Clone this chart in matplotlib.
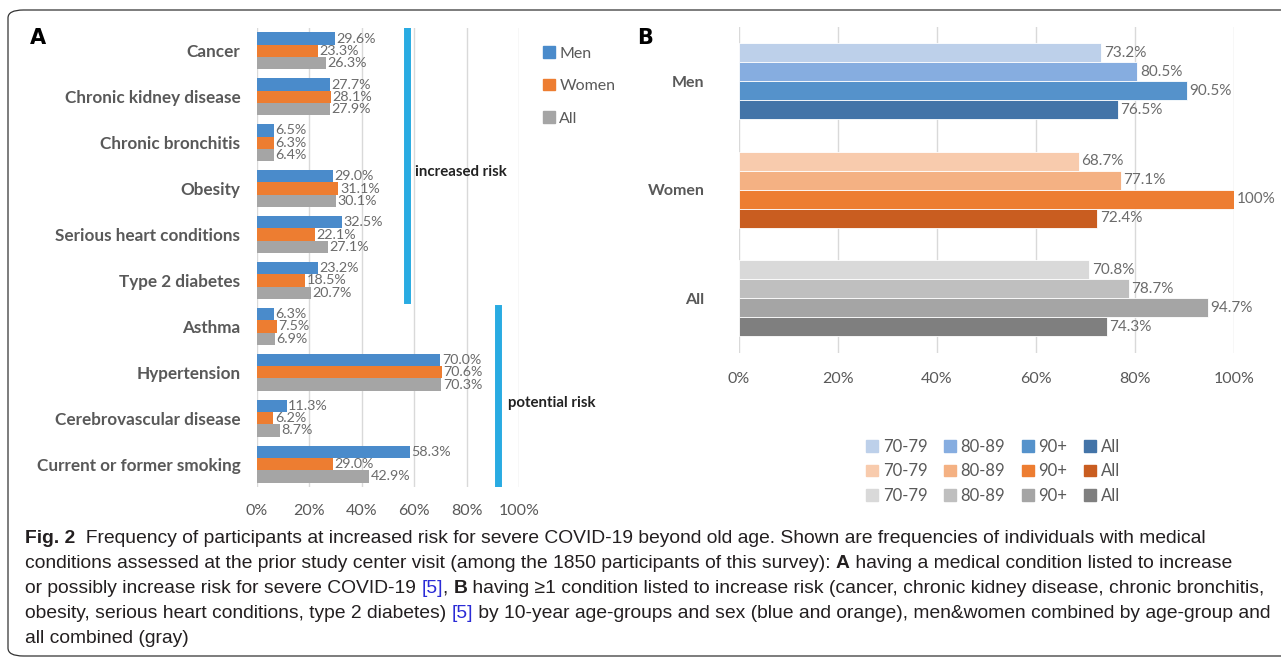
import numpy as np
import matplotlib
matplotlib.use("Agg")
import matplotlib.pyplot as plt
from matplotlib import font_manager
from matplotlib.patches import FancyBboxPatch, Patch

# panel A data
conditions = ["Cancer", "Chronic kidney disease", "Chronic bronchitis", "Obesity",
              "Serious heart conditions", "Type 2 diabetes", "Asthma", "Hypertension",
              "Cerebrovascular disease", "Current or former smoking"]
men_a = [29.6, 27.7, 6.5, 29.0, 32.5, 23.2, 6.3, 70.0, 11.3, 58.3]
women_a = [23.3, 28.1, 6.3, 31.1, 22.1, 18.5, 7.5, 70.6, 6.2, 29.0]
all_a = [26.3, 27.9, 6.4, 30.1, 27.1, 20.7, 6.9, 70.3, 8.7, 42.9]
series_a = ["Men", "Women", "All"]

# panel B data
groups_b = ["Men", "Women", "All"]
age_groups = ["70-79", "80-89", "90+", "All"]
men_b = [73.2, 80.5, 90.5, 76.5]
women_b = [68.7, 77.1, 100.0, 72.4]
all_b = [70.8, 78.7, 94.7, 74.3]
labels_b = [["73.2%", "80.5%", "90.5%", "76.5%"],
            ["68.7%", "77.1%", "100%", "72.4%"],
            ["70.8%", "78.7%", "94.7%", "74.3%"]]

col_a = ["#4a8bcb", "#ed7d31", "#a5a5a5"]
col_b = [["#bdd0ea", "#86ade0", "#5592cb", "#4374a8"],
         ["#f8cbad", "#f4b183", "#ed7d31", "#c95d20"],
         ["#d9d9d9", "#bfbfbf", "#a5a5a5", "#7f7f7f"]]
gray = "#595959"

installed = {f.name for f in font_manager.fontManager.ttflist}
chart_font = "Lato" if "Lato" in installed else "DejaVu Sans"
cap_font = "Liberation Sans Narrow" if "Liberation Sans Narrow" in installed else "Liberation Sans"
plt.rcParams['font.family'] = [chart_font, 'DejaVu Sans']

W, H = 1281, 662
fig = plt.figure(figsize=(W / 100, H / 100), dpi=100)


def fx(px):
    return px / W


def fy(py):
    return 1 - py / H


# rounded frame
frame = FancyBboxPatch((fx(8), fy(656)), fx(1320), fy(10) - fy(656),
                       boxstyle="round,pad=0,rounding_size=0.012",
                       transform=fig.transFigure, fill=False, ec="#333333", lw=0.9)
fig.patches.append(frame)

# ---------- panel A ----------
axA = fig.add_axes([fx(257), fy(487), fx(519 - 257), (487 - 28) / H])
y = np.arange(len(conditions))
bh = 0.268
for k, vals in enumerate([men_a, women_a, all_a]):
    pos = y + (k - 1) * bh
    axA.barh(pos, vals, height=bh, color=col_a[k], label=series_a[k], zorder=3)
    for p, v in zip(pos, vals):
        axA.text(v + 0.6, p, f"{v:.1f}%", va="center", ha="left",
                 fontsize=10.3, color="#6b6b6b", zorder=4)
axA.set_xlim(0, 100)
axA.set_ylim(9.5, -0.5)
axA.set_xticks([0, 20, 40, 60, 80, 100])
axA.set_xticklabels([f"{t}%" for t in [0, 20, 40, 60, 80, 100]])
axA.set_yticks(y)
axA.set_yticklabels(conditions, fontweight="bold")
axA.tick_params(axis="y", length=0, pad=12, labelsize=12.3, labelcolor=gray)
axA.tick_params(axis="x", length=0, pad=12, labelsize=11.5, labelcolor=gray)
axA.grid(axis="x", color="#d9d9d9", lw=1, zorder=0)
for s in axA.spines.values():
    s.set_visible(False)

# risk brackets
axA.axvline(57.3, ymin=1 - (300 - 28) / 459, ymax=1 - 2 / 459, color="#29abe2", lw=5, zorder=5)
axA.axvline(92.0, ymin=1 - (485 - 28) / 459, ymax=1 - (308 - 28) / 459, color="#29abe2", lw=5, zorder=5)
axA.text(60.3, 2.63, "increased risk", fontsize=10.8, fontweight="bold", color="#222222",
         va="center", ha="left", clip_on=False)
axA.text(95.8, 7.68, "potential risk", fontsize=10.8, fontweight="bold", color="#222222",
         va="center", ha="left", clip_on=False)

hA = [Patch(color=c) for c in col_a]
fig.legend(hA, series_a, loc="upper left", bbox_to_anchor=(fx(529), fy(32)),
           frameon=False, handlelength=0.7, handleheight=0.7, handletextpad=0.3,
           labelspacing=1.15, fontsize=11.5, labelcolor=gray)

fig.text(fx(30), fy(38), "A", fontsize=15, fontweight="bold", color="black",
         va="center", ha="left", family="DejaVu Sans")

# ---------- panel B ----------
axB = fig.add_axes([fx(739), fy(352.5), fx(1234 - 739), 325.5 / H])
yb = np.arange(len(groups_b))
bhb = 0.175
for g, vals in enumerate([men_b, women_b, all_b]):
    for k, v in enumerate(vals):
        p = yb[g] + (k - 1.5) * bhb
        axB.barh(p, v, height=bhb, color=col_b[g][k], zorder=3,
                 edgecolor="white", linewidth=0.6)
        axB.text(v + 0.5, p, labels_b[g][k], va="center", ha="left",
                 fontsize=11, color="#6b6b6b", zorder=4, clip_on=False)
axB.set_xlim(0, 100)
axB.set_ylim(2.5, -0.5)
axB.set_xticks([0, 20, 40, 60, 80, 100])
axB.set_xticklabels([f"{t}%" for t in [0, 20, 40, 60, 80, 100]])
axB.set_yticks(yb)
axB.set_yticklabels(groups_b, fontweight="bold")
axB.tick_params(axis="y", length=0, pad=25, labelsize=11.5, labelcolor=gray)
axB.tick_params(axis="x", length=0, pad=14, labelsize=11.5, labelcolor=gray)
axB.grid(axis="x", color="#d9d9d9", lw=1, zorder=0)
for s in axB.spines.values():
    s.set_visible(False)

hB, lB = [], []
for k in range(4):
    for g in range(3):
        hB.append(Patch(color=col_b[g][k]))
        lB.append(age_groups[k])
fig.legend(hB, lB, loc="upper left", bbox_to_anchor=(fx(851), fy(424)), ncol=4,
           frameon=False, handlelength=0.7, handleheight=0.7, handletextpad=0.3,
           columnspacing=1.0, labelspacing=0.5, fontsize=12, labelcolor=gray)

fig.text(fx(637), fy(38), "B", fontsize=15, fontweight="bold", color="black",
         va="center", ha="left", family="DejaVu Sans")

# ---------- caption ----------
renderer = fig.canvas.get_renderer()
cap_size = 13.85


def rich_line(x_px, base_px, parts):
    x = x_px
    for txt, weight, color in parts:
        t = fig.text(fx(x), fy(base_px), txt, fontsize=cap_size, fontweight=weight,
                     color=color, family=cap_font, va="baseline", ha="left")
        x += t.get_window_extent(renderer).width


dark = "#231f20"
link = "#2b2bd6"
rich_line(25, 543, [("Fig. 2", "bold", dark),
                    ("  Frequency of participants at increased risk for severe COVID-19 beyond old age. "
                     "Shown are frequencies of individuals with medical", "normal", dark)])
rich_line(25, 568, [("conditions assessed at the prior study center visit (among the 1850 participants "
                     "of this survey): ", "normal", dark),
                    ("A", "bold", dark),
                    (" having a medical condition listed to increase", "normal", dark)])
rich_line(25, 593, [("or possibly increase risk for severe COVID-19 ", "normal", dark),
                    ("[5]", "normal", link), (", ", "normal", dark), ("B", "bold", dark),
                    (" having \u22651 condition listed to increase risk (cancer, chronic kidney disease, "
                     "chronic bronchitis,", "normal", dark)])
rich_line(25, 618, [("obesity, serious heart conditions, type 2 diabetes) ", "normal", dark),
                    ("[5]", "normal", link),
                    (" by 10-year age-groups and sex (blue and orange), men&women combined by "
                     "age-group and", "normal", dark)])
rich_line(25, 643, [("all combined (gray)", "normal", dark)])

fig.savefig("out.png", dpi=100)
